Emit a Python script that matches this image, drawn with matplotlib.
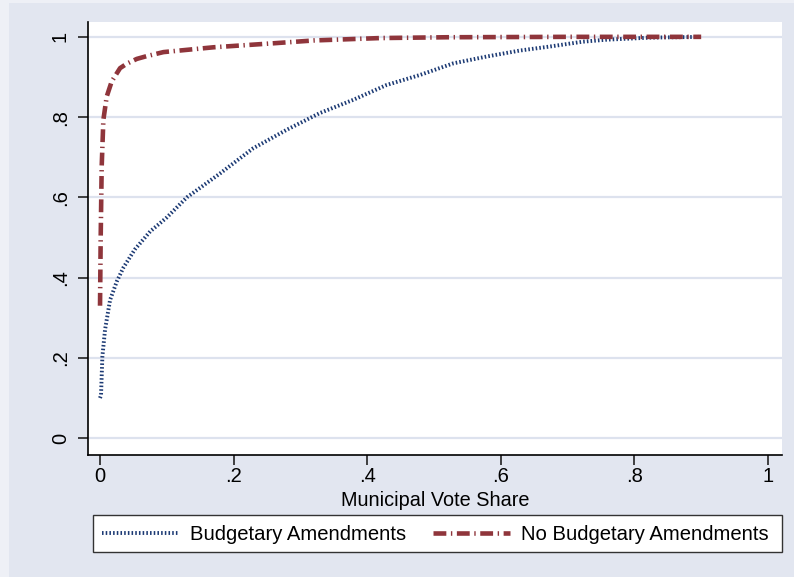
import matplotlib
matplotlib.use("Agg")
import matplotlib.pyplot as plt
from matplotlib.patches import Rectangle

# ---- data ----
budget_x = [0.0, 0.0015, 0.0035, 0.0075, 0.015, 0.025, 0.035, 0.052, 0.075, 0.10,
            0.13, 0.18, 0.229, 0.279, 0.329, 0.379, 0.429, 0.479, 0.529, 0.579,
            0.629, 0.674, 0.723, 0.759, 0.823, 0.90]
budget_y = [0.10, 0.107, 0.203, 0.27, 0.344, 0.39, 0.425, 0.47, 0.515, 0.55,
            0.60, 0.66, 0.722, 0.768, 0.810, 0.843, 0.880, 0.905, 0.934, 0.951,
            0.966, 0.976, 0.988, 0.993, 0.998, 1.0]

nobudget_x = [0.0, 0.001, 0.0025, 0.005, 0.010, 0.0175, 0.030, 0.040, 0.055,
              0.070, 0.095, 0.170, 0.26, 0.32, 0.42, 0.52, 0.70, 0.90]
nobudget_y = [0.33, 0.50, 0.677, 0.793, 0.851, 0.889, 0.922, 0.933, 0.945,
              0.952, 0.962, 0.974, 0.984, 0.991, 0.997, 0.999, 1.0, 1.0]

xticks = [0, 0.2, 0.4, 0.6, 0.8, 1.0]
xticklabels = ["0", ".2", ".4", ".6", ".8", "1"]
yticks = [0, 0.2, 0.4, 0.6, 0.8, 1.0]
yticklabels = ["0", ".2", ".4", ".6", ".8", "1"]
labels = ["Budgetary Amendments", "No Budgetary Amendments"]

# ---- style ----
plt.rcParams['font.family'] = ['Liberation Sans', 'DejaVu Sans']
bg = '#e2e6f0'
grid_c = '#dde2ee'
blue = '#1c3a74'
red = '#8f353b'

W, H = 794, 577
fig = plt.figure(figsize=(W / 100, H / 100), dpi=100, facecolor=bg)
# light outer strip on left/top
fig.patches.append(Rectangle((0, 0), 9 / W, 1, transform=fig.transFigure,
                             facecolor='#eef0f6', edgecolor='none', zorder=-10))
fig.patches.append(Rectangle((0, 1 - 3 / H), 1, 3 / H, transform=fig.transFigure,
                             facecolor='#eef0f6', edgecolor='none', zorder=-10))

ax = fig.add_axes([88 / W, (H - 455) / H, (782 - 88) / W, (455 - 22) / H])
ax.set_facecolor('white')

ax.plot(budget_x, budget_y, color=blue, lw=2.8, linestyle=(0, (0.4, 0.55)),
        label=labels[0], dash_capstyle='butt')
ax.plot(nobudget_x, nobudget_y, color=red, lw=3.3,
        linestyle=(0, (2.8, 1.0, 0.3, 1.0)), label=labels[1],
        dash_capstyle='butt')

ax.set_xlim(-0.018, 1.021)
ax.set_ylim(-0.042, 1.037)
ax.set_xticks(xticks)
ax.set_xticklabels(xticklabels)
ax.set_yticks(yticks)
ax.set_yticklabels(yticklabels, rotation=90, va='center')
ax.tick_params(axis='both', direction='out', length=7, width=1.2,
               labelsize=14.5, color='#222222')
ax.tick_params(axis='x', pad=2)
ax.tick_params(axis='y', pad=6)

for s in ['top', 'right']:
    ax.spines[s].set_visible(False)
for s in ['left', 'bottom']:
    ax.spines[s].set_color('black')
    ax.spines[s].set_linewidth(1.2)

ax.yaxis.grid(True, color=grid_c, lw=1.6)
ax.set_axisbelow(True)

ax.set_xlabel("Municipal Vote Share", fontsize=14.3, labelpad=3)

# legend box drawn manually, legend content without frame
fig.patches.append(Rectangle((93 / W, (H - 552) / H), (782 - 93) / W, 37 / H,
                             transform=fig.transFigure, facecolor='white',
                             edgecolor='#333333', lw=1.0, zorder=1))
leg = fig.legend(loc='center left',
                 bbox_to_anchor=(102 / W, (H - 535) / H),
                 ncol=2, fontsize=14.6, frameon=False,
                 handlelength=3.8, handletextpad=0.55, columnspacing=1.3,
                 borderpad=0, borderaxespad=0)
leg.set_zorder(2)

fig.savefig("out.png", dpi=100, facecolor=bg)
